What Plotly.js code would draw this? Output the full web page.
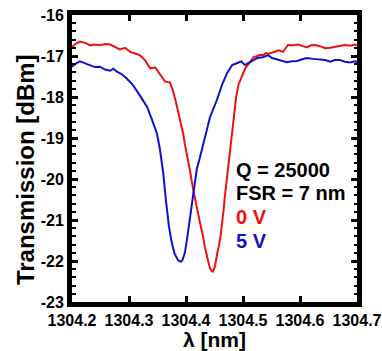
<!DOCTYPE html>
<html>
<head>
<meta charset="utf-8">
<script src="https://cdn.plot.ly/plotly-3.0.1.min.js"></script>
<style>html,body{margin:0;padding:0;background:#fff;}#chart{width:382px;height:351px;}</style>
</head>
<body>
<div id="chart"></div>
<script>
// 0 V series (red)
var wl0V = [1304.200,1304.207,1304.214,1304.223,1304.232,1304.240,1304.249,1304.258,1304.267,1304.275,1304.284,1304.293,1304.302,1304.311,1304.319,1304.328,1304.337,1304.346,1304.354,1304.363,1304.372,1304.377,1304.381,1304.386,1304.389,1304.395,1304.398,1304.404,1304.407,1304.412,1304.416,1304.421,1304.425,1304.430,1304.433,1304.438,1304.442,1304.447,1304.451,1304.455,1304.458,1304.461,1304.463,1304.466,1304.468,1304.471,1304.474,1304.477,1304.479,1304.482,1304.485,1304.488,1304.492,1304.496,1304.504,1304.511,1304.518,1304.525,1304.530,1304.535,1304.540,1304.544,1304.551,1304.556,1304.563,1304.570,1304.575,1304.579,1304.588,1304.596,1304.605,1304.612,1304.619,1304.626,1304.635,1304.644,1304.653,1304.661,1304.670,1304.679,1304.688,1304.695,1304.700];
var t0V = [-16.78,-16.70,-16.65,-16.68,-16.74,-16.72,-16.74,-16.71,-16.72,-16.78,-16.84,-16.80,-16.90,-16.94,-16.98,-17.10,-17.30,-17.28,-17.45,-17.62,-17.65,-17.84,-18.05,-18.33,-18.55,-18.89,-19.15,-19.55,-19.80,-20.21,-20.50,-20.85,-21.10,-21.40,-21.65,-21.95,-22.18,-22.27,-22.12,-21.80,-21.62,-21.35,-21.15,-20.75,-20.45,-20.10,-19.75,-19.40,-19.13,-18.75,-18.33,-18.00,-17.70,-17.55,-17.30,-17.17,-17.03,-17.00,-16.97,-16.98,-16.93,-16.95,-16.92,-16.88,-16.86,-16.90,-16.80,-16.73,-16.74,-16.72,-16.76,-16.79,-16.74,-16.73,-16.76,-16.81,-16.80,-16.78,-16.76,-16.73,-16.75,-16.72,-16.74];

// 5 V series (blue)
var wl5V = [1304.200,1304.207,1304.214,1304.223,1304.232,1304.240,1304.249,1304.258,1304.267,1304.272,1304.279,1304.288,1304.296,1304.307,1304.319,1304.332,1304.342,1304.349,1304.354,1304.360,1304.365,1304.370,1304.375,1304.380,1304.386,1304.391,1304.394,1304.398,1304.402,1304.407,1304.412,1304.416,1304.419,1304.424,1304.433,1304.442,1304.454,1304.463,1304.472,1304.481,1304.490,1304.497,1304.503,1304.510,1304.517,1304.525,1304.535,1304.544,1304.551,1304.560,1304.568,1304.577,1304.586,1304.595,1304.604,1304.612,1304.623,1304.635,1304.644,1304.653,1304.661,1304.670,1304.679,1304.688,1304.696,1304.700];
var t5V = [-17.26,-17.18,-17.13,-17.18,-17.24,-17.27,-17.26,-17.33,-17.36,-17.31,-17.38,-17.45,-17.55,-17.71,-17.96,-18.25,-18.62,-18.89,-19.25,-19.85,-20.55,-21.15,-21.55,-21.82,-21.98,-22.02,-21.97,-21.80,-21.45,-20.95,-20.35,-20.00,-19.75,-19.50,-18.99,-18.50,-18.08,-17.71,-17.42,-17.22,-17.17,-17.13,-17.22,-17.16,-17.12,-17.05,-17.03,-16.98,-17.05,-17.09,-17.12,-17.15,-17.13,-17.12,-17.08,-17.05,-17.07,-17.08,-17.10,-17.14,-17.10,-17.10,-17.14,-17.16,-17.13,-17.15];

// tick labels
var xTickVals = [1304.2, 1304.3, 1304.4, 1304.5, 1304.6, 1304.7];
var xTickText = ["1304.2", "1304.3", "1304.4", "1304.5", "1304.6", "1304.7"];
var yTickVals = [-23, -22, -21, -20, -19, -18, -17, -16];
var yTickText = ["-23", "-22", "-21", "-20", "-19", "-18", "-17", "-16"];

var noteLines = ["Q = 25000", "FSR = 7 nm", "0 V", "5 V"];
var noteColors = ["#000000", "#000000", "#ee1111", "#1111cc"];
var noteY = [-19.78, -20.35, -20.92, -21.52];

var F = "Liberation Sans, Arial, Helvetica, sans-serif";

var traces = [
  {x: wl0V, y: t0V, type: "scatter", mode: "lines", line: {color: "#ee1111", width: 2}, name: "0 V"},
  {x: wl5V, y: t5V, type: "scatter", mode: "lines", line: {color: "#1111cc", width: 2}, name: "5 V"}
];

var annotations = noteLines.map(function (t, i) {
  return {x: 1304.484, y: noteY[i], xref: "x", yref: "y", text: "<b>" + t + "</b>", showarrow: false,
          xanchor: "left", yanchor: "middle",
          font: {family: F, size: 20, color: noteColors[i]}};
});
annotations.push({
  x: -0.165, y: 0.463, xref: "paper", yref: "paper", textangle: -90,
  text: "<b>Transmission [dBm]</b>", showarrow: false, xanchor: "center", yanchor: "middle",
  font: {family: F, size: 24, color: "#000"}
});

var bold = function (a) { return a.map(function (s) { return "<b>" + s + "</b>"; }); };

var layout = {
  width: 382, height: 351,
  margin: {l: 72, r: 25, t: 15, b: 49},
  paper_bgcolor: "#ffffff", plot_bgcolor: "#ffffff",
  showlegend: false,
  font: {family: F, color: "#000"},
  xaxis: {
    range: [1304.2, 1304.7], tickmode: "array", tickvals: xTickVals, ticktext: bold(xTickText),
    showgrid: false, zeroline: false,
    showline: true, linewidth: 5, linecolor: "#000", mirror: "allticks",
    ticks: "inside", ticklen: 6, tickwidth: 3, tickcolor: "#000",
    tickfont: {family: F, size: 16, color: "#000"},
    title: {text: "<b>λ [nm]</b>", font: {family: F, size: 21}, standoff: 6}
  },
  yaxis: {
    range: [-23, -16], tickmode: "array", tickvals: yTickVals, ticktext: bold(yTickText),
    showgrid: false, zeroline: false,
    showline: true, linewidth: 5, linecolor: "#000", mirror: "allticks",
    ticks: "inside", ticklen: 6, tickwidth: 3, tickcolor: "#000",
    minor: {dtick: 0.2, tick0: -23, ticks: "inside", ticklen: 3.5, tickwidth: 2, tickcolor: "#000", showgrid: false},
    tickfont: {family: F, size: 16, color: "#000"}
  },
  annotations: annotations
};

Plotly.newPlot("chart", traces, layout, {staticPlot: true, displayModeBar: false});
</script>
</body>
</html>
